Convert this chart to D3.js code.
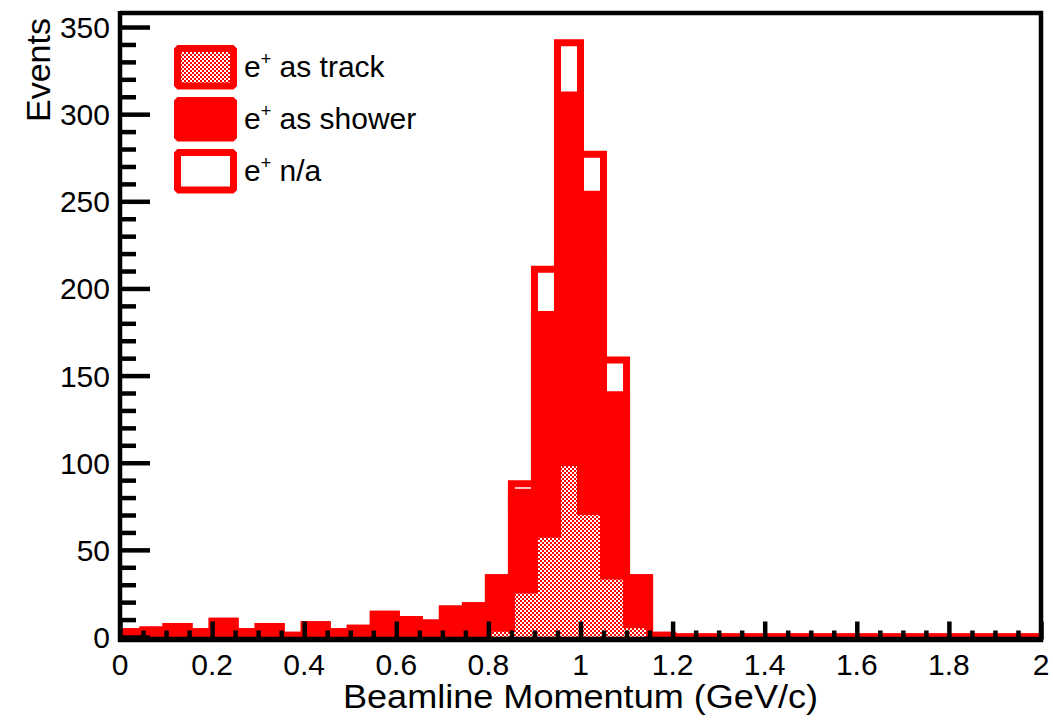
<!DOCTYPE html>
<html>
<head>
<meta charset="utf-8">
<script src="https://cdn.jsdelivr.net/npm/d3@7"></script>
<style>
  body { margin: 0; background: #fff; }
  svg { display: block; }
  text { font-family: "Liberation Sans", Arial, Helvetica, sans-serif; fill: #000; }
</style>
</head>
<body>
<svg id="chart" width="1053" height="720"></svg>
<script>
// Histogram bins: lower edges (GeV/c), 0.05 wide
const binLow = [0.00, 0.05, 0.10, 0.15, 0.20, 0.25, 0.30, 0.35, 0.40, 0.45,
                0.50, 0.55, 0.60, 0.65, 0.70, 0.75, 0.80, 0.85, 0.90, 0.95,
                1.00, 1.05, 1.10, 1.15, 1.20, 1.25, 1.30, 1.35, 1.40, 1.45,
                1.50, 1.55, 1.60, 1.65, 1.70, 1.75, 1.80, 1.85, 1.90, 1.95];
const binWidth = 0.05;

// Events per bin for each e+ category (stacked: track, shower, n/a)
const trackCounts  = [0, 0, 0, 0, 0, 0, 0, 0, 0, 0,
                      0, 1, 1, 0, 1, 1, 5, 27, 59, 100,
                      72, 35, 7, 0, 0, 0, 0, 0, 0, 0,
                      0, 0, 0, 0, 0, 0, 0, 0, 0, 0];
const showerCounts = [3, 4, 6, 3, 9, 3, 6, 1, 7, 3,
                      5, 12, 9, 8, 15, 17, 29, 56, 126, 211,
                      182, 104, 27, 1, 0, 0, 0, 0, 0, 0,
                      0, 0, 0, 0, 0, 0, 0, 0, 0, 0];
const naCounts     = [0, 0, 0, 0, 0, 0, 0, 0, 0, 0,
                      0, 0, 0, 0, 0, 0, 0, 5, 26, 30,
                      23, 20, 0, 0, 0, 0, 0, 0, 0, 0,
                      0, 0, 0, 0, 0, 0, 0, 0, 0, 0];

const seriesKeys   = ["track", "shower", "na"];
const legendLabels = ["as track", "as shower", "n/a"];
const xTickLabels  = ["0", "0.2", "0.4", "0.6", "0.8", "1", "1.2", "1.4", "1.6", "1.8", "2"];
const yTickLabels  = ["0", "50", "100", "150", "200", "250", "300", "350"];
const xTitle = "Beamline Momentum (GeV/c)";
const yTitle = "Events";

const RED = "#ff0000";
const svg = d3.select("#chart");

// Frame geometry
const fLeft = 120, fRight = 1041, fTop = 13, fBottom = 639.5, yZeroPx = 637;

// Stack the three categories
const table = binLow.map((b, i) => ({ b, track: trackCounts[i], shower: showerCounts[i], na: naCounts[i] }));
const stacked = d3.stack().keys(seriesKeys)(table);
const yMax = d3.max(stacked[2], d => d[1]) * 1.05;

const x = d3.scaleLinear().domain([0, 2]).range([fLeft, fRight]);
const y = d3.scaleLinear().domain([0, yMax]).range([yZeroPx, fTop]);

// Checkerboard fill used for the "track" category
const defs = svg.append("defs");
const pat = defs.append("pattern").attr("id", "checker")
  .attr("patternUnits", "userSpaceOnUse").attr("width", 4).attr("height", 4);
pat.append("rect").attr("width", 4).attr("height", 4).attr("fill", "#fff");
pat.append("rect").attr("width", 2).attr("height", 2).attr("fill", RED);
pat.append("rect").attr("x", 2).attr("y", 2).attr("width", 2).attr("height", 2).attr("fill", RED);

defs.append("clipPath").attr("id", "frameClip").append("rect")
  .attr("x", fLeft).attr("y", fTop).attr("width", fRight - fLeft).attr("height", fBottom - fTop);

// Step outline through the cumulative top of a stacked series
const stepLine = d3.line().curve(d3.curveStepAfter).x(p => x(p[0])).y(p => y(p[1]));
function stepPoints(series) {
  const pts = [[binLow[0], 0]];
  series.forEach((d, i) => pts.push([binLow[i], d[1]]));
  pts.push([binLow[binLow.length - 1] + binWidth, 0]);
  return pts;
}

const hist = svg.append("g").attr("clip-path", "url(#frameClip)");
// draw from the top of the stack down, like a stacked histogram
const styles = {
  na:     { fill: "none" },
  shower: { fill: RED },
  track:  { fill: "url(#checker)" }
};
[2, 1, 0].forEach(k => {
  const s = stacked[k];
  hist.append("path")
    .attr("d", stepLine(stepPoints(s)))
    .attr("fill", styles[s.key].fill)
    .attr("stroke", RED)
    .attr("stroke-width", 7)
    .attr("stroke-linejoin", "miter");
});

// Axes (ticks point into the frame)
const xMajor = xTickLabels.map(Number);
const xMinor = d3.range(0, 41).map(i => i * 0.05).filter(v => Math.abs(v * 5 - Math.round(v * 5)) > 1e-6);
const yMajor = yTickLabels.map(Number);
const yMinor = d3.range(0, 360, 10).filter(v => v % 50 !== 0 && v <= yMax);

const axisG = svg.append("g");
function styleAxis(g) {
  g.select(".domain").remove();
  g.selectAll(".tick line").attr("stroke", "#000").attr("stroke-width", 4.5);
  g.selectAll(".tick text").remove();
}
axisG.append("g").attr("transform", `translate(0,${fBottom})`)
  .call(d3.axisBottom(x).tickValues(xMajor).tickSize(-18)).call(styleAxis);
axisG.append("g").attr("transform", `translate(0,${fBottom})`)
  .call(d3.axisBottom(x).tickValues(xMinor).tickSize(-9)).call(styleAxis);
axisG.append("g").attr("transform", `translate(${fLeft},0)`)
  .call(d3.axisLeft(y).tickValues(yMajor).tickSize(-30)).call(styleAxis);
axisG.append("g").attr("transform", `translate(${fLeft},0)`)
  .call(d3.axisLeft(y).tickValues(yMinor).tickSize(-16)).call(styleAxis);

// Frame
svg.append("line").attr("x1", fLeft).attr("x2", fRight + 2).attr("y1", fTop).attr("y2", fTop)
  .attr("stroke", "#000").attr("stroke-width", 4.5);
svg.append("line").attr("x1", fRight).attr("x2", fRight).attr("y1", fTop - 2).attr("y2", fBottom + 2.5)
  .attr("stroke", "#000").attr("stroke-width", 4.5);
svg.append("line").attr("x1", fLeft).attr("x2", fLeft).attr("y1", fTop - 2).attr("y2", fBottom + 2.5)
  .attr("stroke", "#000").attr("stroke-width", 4.5);
svg.append("line").attr("x1", fLeft - 2).attr("x2", fRight + 2).attr("y1", fBottom).attr("y2", fBottom)
  .attr("stroke", "#000").attr("stroke-width", 5.5);

// Tick labels
svg.append("g").selectAll("text").data(xTickLabels).join("text")
  .attr("x", d => x(+d)).attr("y", 675)
  .attr("text-anchor", "middle").attr("font-size", 30).text(d => d);
svg.append("g").selectAll("text").data(yTickLabels).join("text")
  .attr("x", 110).attr("y", d => y(+d) + 11)
  .attr("text-anchor", "end").attr("font-size", 30).text(d => d);

// Axis titles
svg.append("text").attr("x", x(1)).attr("y", 708).attr("text-anchor", "middle")
  .attr("font-size", 34).attr("textLength", 475).attr("lengthAdjust", "spacingAndGlyphs").text(xTitle);
svg.append("text").attr("transform", "translate(50,122) rotate(-90)")
  .attr("font-size", 33).attr("textLength", 104).attr("lengthAdjust", "spacingAndGlyphs").text(yTitle);

// Legend
const legend = svg.append("g");
const legendFill = [styles.track.fill, styles.shower.fill, "#fff"];
legendLabels.forEach((lab, i) => {
  const top = 45 + i * 52;
  legend.append("rect").attr("x", 177.5).attr("y", top + 3.5).attr("width", 56).attr("height", 37.5)
    .attr("fill", legendFill[i]).attr("stroke", RED).attr("stroke-width", 7).attr("stroke-linejoin", "bevel");
  const t = legend.append("text").attr("x", 244).attr("y", top + 32).attr("font-size", 30);
  t.append("tspan").text("e");
  t.append("tspan").attr("dy", -12).attr("font-size", 18).text("+");
  t.append("tspan").attr("dy", 12).text(" " + lab);
});
</script>
</body>
</html>
